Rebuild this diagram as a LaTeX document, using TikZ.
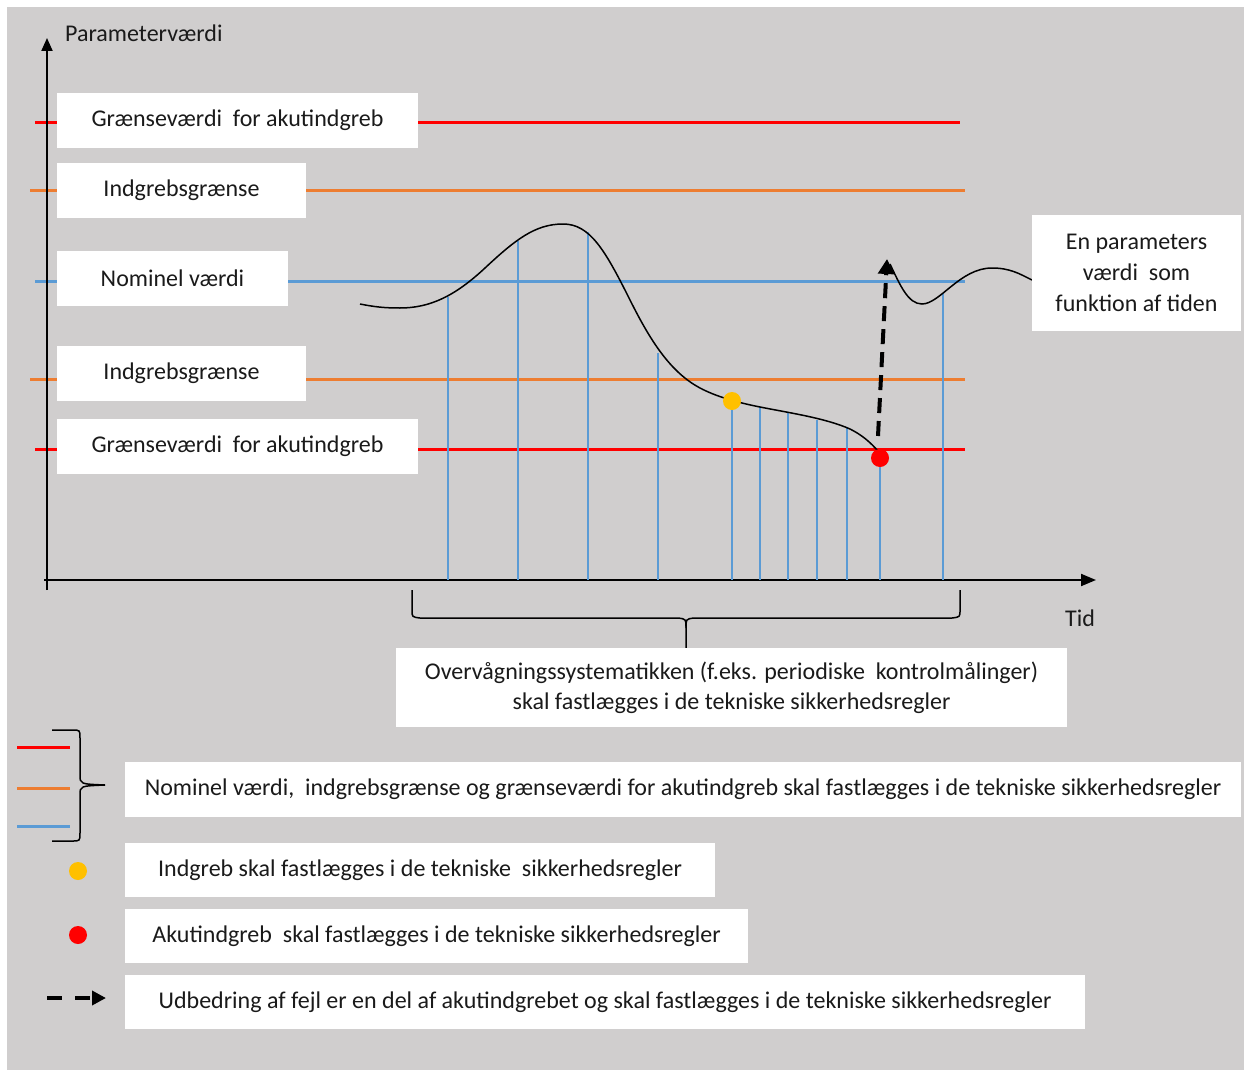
\documentclass[tikz,border=0pt]{standalone}
\usepackage{fontspec}
\setmainfont{Carlito}
\usetikzlibrary{arrows.meta}
\definecolor{bggray}{HTML}{D0CECE}
\definecolor{lred}{HTML}{FF0000}
\definecolor{lorange}{HTML}{ED7D31}
\definecolor{lblue}{HTML}{5B9BD5}
\definecolor{lyellow}{HTML}{FFC000}
\definecolor{txt}{HTML}{1A1A1A}
\tikzset{
  box/.style={fill=white, inner sep=0pt, text=txt, align=center,
    font=\fontsize{24}{30}\selectfont},
  plain/.style={inner sep=0pt, text=txt, font=\fontsize{24}{30}\selectfont},
  hline/.style={line width=3pt},
  vline/.style={draw=lblue, line width=1.5pt},
  axis/.style={line width=2pt, black},
  fcurve/.style={line width=1.5pt, black},
  dot/.style={circle, inner sep=0pt, minimum size=18pt},
  fixarrow/.style={line width=4pt, black, dash pattern=on 15pt off 8pt,
    -{Triangle[length=15pt,width=16pt]}},
  bracepath/.style={line width=1.5pt, black}
}
\begin{document}
\begin{tikzpicture}[x=1pt,y=-1pt]
\useasboundingbox (0,0) rectangle (1244,1073);
\fill[white] (0,0) rectangle (1244,1073);
\fill[bggray] (7,7) rectangle (1244,1070);

% horizontal limit lines
\coordinate (r1a) at (35,122);  \coordinate (r1b) at (960,122);
\coordinate (o1a) at (30,190);  \coordinate (o1b) at (965,190);
\coordinate (b1a) at (35,281);  \coordinate (b1b) at (965,281);
\coordinate (o2a) at (30,379);  \coordinate (o2b) at (965,379);
\coordinate (r2a) at (35,449);  \coordinate (r2b) at (965,449);
\draw[hline, lred] (r1a) -- (r1b);
\draw[hline, lorange] (o1a) -- (o1b);
\draw[hline, lblue] (b1a) -- (b1b);
\draw[hline, lorange] (o2a) -- (o2b);
\draw[hline, lred] (r2a) -- (r2b);

% axes
\coordinate (yb) at (47,590); \coordinate (yt) at (47,38);
\coordinate (xl) at (44,580); \coordinate (xr) at (1096,580);
\draw[axis, -{Triangle[length=13pt,width=11pt]}] (yb) -- (yt);
\draw[axis, -{Triangle[length=15pt,width=12pt]}] (xl) -- (xr);

% boxes on the limit lines
\node[box, minimum width=361pt, minimum height=55pt] (g1) at (237.5,120.5) {Grænseværdi\ \ for akutindgreb};
\node[box, minimum width=249pt, minimum height=55pt] (i1) at (181.5,190.5) {Indgrebsgrænse};
\node[box, minimum width=231pt, minimum height=55pt] (n1) at (172.5,278.5) {Nominel værdi};
\node[box, minimum width=249pt, minimum height=55pt] (i2) at (181.5,373.5) {Indgrebsgrænse};
\node[box, minimum width=361pt, minimum height=55pt] (g2) at (237.5,446.5) {Grænseværdi\ \ for akutindgreb};

\node[plain, anchor=west] (ylab) at (65,33) {Parameterværdi};
\node[plain, anchor=west] (xlab) at (1065,618) {Tid};

% measurement lines
\foreach \x/\y in {448/297, 518/241, 588/232, 658/353, 732/401, 760/407, 788/413, 817/420, 847/427, 880/450, 943/293}
  \draw[vline] (\x,\y) -- (\x,580);

% parameter curve
\draw[fcurve] (360,304) .. controls (375,307) and (385,308) .. (400,308)
  .. controls (430,308) and (455,296) .. (485,268)
  .. controls (515,240) and (535,224) .. (563,224)
  .. controls (590,224) and (605,250) .. (630,300)
  .. controls (650,340) and (670,372) .. (700,388)
  .. controls (715,396) and (735,402) .. (760,407)
  .. controls (790,413) and (825,418) .. (850,429)
  .. controls (862,435) and (870,442) .. (878,451);
\draw[fcurve] (890,264) .. controls (900,285) and (908,304) .. (922,304)
  .. controls (940,304) and (960,268) .. (992,268)
  .. controls (1010,268) and (1020,274) .. (1032,280);

% dots
\node[dot, fill=lyellow] (yd) at (732,401) {};
\node[dot, fill=lred] (rd) at (880,458) {};

% corrective action arrow
\coordinate (fa) at (878,436);
\coordinate (fb) at (887,259);
\draw[fixarrow] (fa) -- (fb);

% description box
\node[box, font=\fontsize{24}{31}\selectfont, minimum width=209pt, minimum height=116pt] (desc) at (1136.5,273) {En parameters\\værdi\ \ som\\funktion af tiden};

% monitoring brace
\coordinate (bl) at (412,590); \coordinate (br) at (960,590); \coordinate (btip) at (686,648);
\draw[bracepath] (bl) -- (412,610) .. controls (412,617) .. (420,618) -- (678,618) .. controls (686,619) .. (686,628) -- (btip);
\draw[bracepath] (br) -- (960,610) .. controls (960,617) .. (952,618) -- (694,618) .. controls (686,619) .. (686,628);
\node[box, minimum width=671pt, minimum height=79pt] (mon) at (731.5,687.5) {Overvågningssystematikken (f.eks. periodiske\ \ kontrolmålinger)\\skal fastlægges i de tekniske sikkerhedsregler};

% legend
\draw[hline, lred] (17,747) -- (70,747);
\draw[hline, lorange] (17,788) -- (70,788);
\draw[hline, lblue] (17,826) -- (70,826);
\coordinate (lbt) at (52,730); \coordinate (lbb) at (52,841); \coordinate (lbtip) at (105,785);
\draw[bracepath] (lbt) -- (72,730) .. controls (80,730) .. (80,738) -- (80,775) .. controls (80,784) .. (lbtip);
\draw[bracepath] (lbb) -- (72,841) .. controls (80,841) .. (80,833) -- (80,795) .. controls (80,786) .. (lbtip);
\node[box, minimum width=1116pt, minimum height=55pt] (leg1) at (683,789.5) {Nominel værdi,\ \ indgrebsgrænse og grænseværdi for akutindgreb skal fastlægges i de tekniske sikkerhedsregler};
\node[dot, fill=lyellow] (ly) at (78,871) {};
\node[box, minimum width=590pt, minimum height=54pt] (leg2) at (420,870) {Indgreb skal fastlægges i de tekniske\ \ sikkerhedsregler};
\node[dot, fill=lred] (lr) at (78,935) {};
\node[box, minimum width=623pt, minimum height=54pt] (leg3) at (436.5,936) {Akutindgreb\ \ skal fastlægges i de tekniske sikkerhedsregler};
\coordinate (la) at (47,998); \coordinate (lb) at (106,998);
\draw[line width=4pt, black, dash pattern=on 15pt off 13pt, -{Triangle[length=14pt,width=14pt]}] (la) -- (lb);
\node[box, minimum width=960pt, minimum height=54pt] (leg4) at (605,1002) {Udbedring af fejl er en del af akutindgrebet og skal fastlægges i de tekniske sikkerhedsregler};
\end{tikzpicture}
\end{document}
